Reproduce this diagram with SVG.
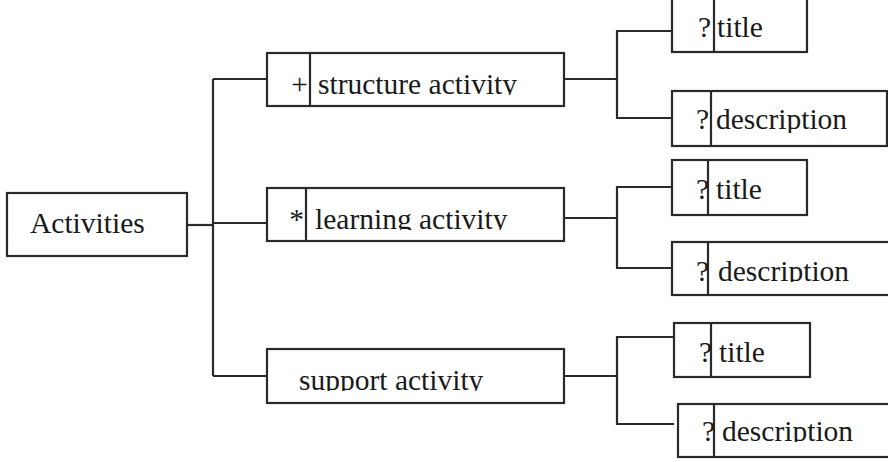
<svg xmlns="http://www.w3.org/2000/svg" width="888" height="462" viewBox="0 0 888 462">
<style>
.b{fill:#fff;stroke:#2a2a2a;stroke-width:2.2}
.d{stroke:#2a2a2a;stroke-width:2.2}
.t{font-family:"Liberation Serif","Times New Roman",serif;font-size:29.5px;fill:#1a1a1a}
.e{text-anchor:end}
#connectors line,#connectors path{stroke:#2a2a2a;stroke-width:2.2;fill:none}
</style>
<defs>
<clipPath id="c1"><rect x="0" y="0" width="888" height="95"/></clipPath>
<clipPath id="c2"><rect x="0" y="0" width="888" height="230"/></clipPath>
<clipPath id="c3"><rect x="0" y="0" width="888" height="391"/></clipPath>
<clipPath id="c4"><rect x="0" y="0" width="888" height="133"/></clipPath>
<clipPath id="c5"><rect x="0" y="0" width="888" height="282"/></clipPath>
<clipPath id="c6"><rect x="0" y="0" width="888" height="442"/></clipPath>
</defs>
<rect width="888" height="462" fill="#fff"/>
<g id="connectors">
<line x1="187" y1="225" x2="213" y2="225"/>
<line x1="213" y1="79" x2="213" y2="376"/>
<line x1="213" y1="79" x2="267" y2="79"/>
<line x1="213" y1="223" x2="267" y2="223"/>
<line x1="213" y1="376" x2="267" y2="376"/>
<line x1="564" y1="79" x2="617" y2="79"/>
<line x1="564" y1="218" x2="617" y2="218"/>
<line x1="564" y1="376" x2="617" y2="376"/>
<path d="M672 31H617V118H672"/>
<path d="M672 187H617V268H672"/>
<path d="M674 337H617V424H674"/>
</g>
<g id="activities">
<rect class="b" x="7" y="193" width="180" height="63"/>
<text class="t" x="30" y="233">Activities</text>
</g>
<g id="structure-activity">
<rect class="b" x="267" y="53" width="297" height="53"/>
<line class="d" x1="310" y1="53" x2="310" y2="106"/>
<text class="t e" x="308" y="94">+</text>
<text class="t" x="318" y="94" clip-path="url(#c1)">structure activity</text>
</g>
<g id="learning-activity">
<rect class="b" x="267" y="188" width="297" height="53"/>
<line class="d" x1="306" y1="188" x2="306" y2="241"/>
<text class="t e" x="304" y="229">*</text>
<text class="t" x="315" y="229" clip-path="url(#c2)">learning activity</text>
</g>
<g id="support-activity">
<rect class="b" x="267" y="349" width="297" height="54"/>
<text class="t" x="299" y="390" clip-path="url(#c3)">support activity</text>
</g>
<g id="title-1">
<rect class="b" x="672" y="-5" width="135" height="57"/>
<line class="d" x1="714" y1="-5" x2="714" y2="52"/>
<text class="t e" x="711" y="37">?</text>
<text class="t" x="717" y="37">title</text>
</g>
<g id="description-1">
<rect class="b" x="672" y="91" width="215" height="55"/>
<line class="d" x1="711" y1="91" x2="711" y2="146"/>
<text class="t e" x="709" y="129">?</text>
<text class="t" x="716" y="129" clip-path="url(#c4)">description</text>
</g>
<g id="title-2">
<rect class="b" x="672" y="160" width="135" height="55"/>
<line class="d" x1="708" y1="160" x2="708" y2="215"/>
<text class="t e" x="709" y="199">?</text>
<text class="t" x="716" y="199">title</text>
</g>
<g id="description-2">
<rect class="b" x="672" y="242" width="220" height="53"/>
<line class="d" x1="708" y1="242" x2="708" y2="295"/>
<text class="t e" x="709" y="281" clip-path="url(#c5)">?</text>
<text class="t" x="718" y="281" clip-path="url(#c5)">description</text>
</g>
<g id="title-3">
<rect class="b" x="674" y="323" width="136" height="54"/>
<line class="d" x1="711" y1="323" x2="711" y2="377"/>
<text class="t e" x="712" y="362">?</text>
<text class="t" x="719" y="362">title</text>
</g>
<g id="description-3">
<rect class="b" x="678" y="404" width="214" height="53"/>
<line class="d" x1="714" y1="404" x2="714" y2="457"/>
<text class="t e" x="715" y="441" clip-path="url(#c6)">?</text>
<text class="t" x="722" y="441" clip-path="url(#c6)">description</text>
</g>
</svg>
